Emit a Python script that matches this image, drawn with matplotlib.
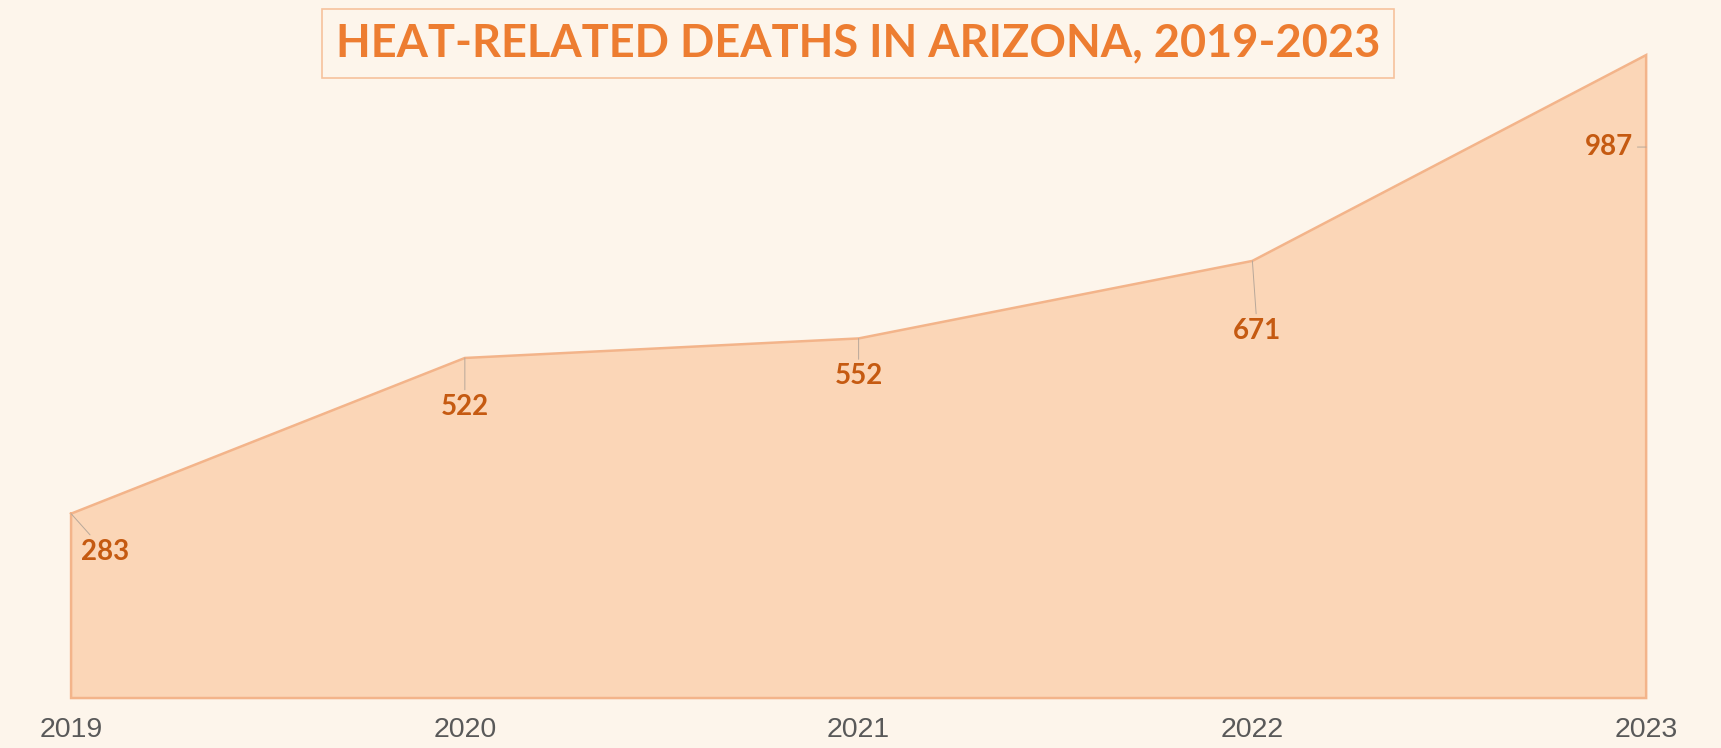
import matplotlib
matplotlib.use('Agg')
import matplotlib.pyplot as plt
import matplotlib.patheffects as pe

years = ['2019', '2020', '2021', '2022', '2023']
deaths = [283, 522, 552, 671, 987]
label_offsets = [(34, -38), (0, -49), (0, -38), (5, -70), (-37, -92)]

bg = '#FDF5EB'
fill_color = '#FBD6B7'
edge_color = '#F3B48A'
label_color = '#C55A11'
title_color = '#ED7D31'

fig = plt.figure(figsize=(17.21, 7.48), dpi=100, facecolor=bg)
ax = fig.add_axes([0.0413, 0.0668, 0.9152, 0.8596])
ax.set_facecolor(bg)

x = list(range(len(years)))
ax.set_xlim(0, len(years) - 1)
ax.set_ylim(0, 987)

ax.fill_between(x, deaths, 0, color=fill_color, lw=0, zorder=2,
                path_effects=[pe.SimplePatchShadow(offset=(2, -3), shadow_rgbFace='#E8B892', alpha=0.5),
                              pe.Normal()])
ax.plot(x + [x[-1], x[0], x[0]], deaths + [0, 0, deaths[0]], color=edge_color, lw=1.8,
        zorder=3, clip_on=False, solid_joinstyle='miter')

# pixels per data unit on the y axis
px_per_unit = ax.get_position().height * fig.get_figheight() * fig.dpi / 987

for i, (xi, val, off) in enumerate(zip(x, deaths, label_offsets)):
    if i == len(x) - 1:
        # last label: leader runs sideways to the right edge of the area
        anchor = (xi, val + off[1] / px_per_unit)
        text_off = (off[0], 0)
    else:
        anchor = (xi, val)
        text_off = off
    ax.annotate(str(val), xy=anchor, xytext=text_off, textcoords='offset pixels',
                ha='center', va='center', fontsize=20, fontweight='bold',
                family=['Lato', 'DejaVu Sans'], color=label_color, zorder=5,
                arrowprops=dict(arrowstyle='-', color='#B8A89A', lw=0.7,
                                shrinkA=1, shrinkB=0))

ax.set_xticks(x)
ax.set_xticklabels(years, fontsize=20.5, color='#595959', family=['Liberation Sans', 'DejaVu Sans'])
ax.tick_params(axis='x', length=0, pad=14)
ax.set_yticks([])
for s in ax.spines.values():
    s.set_visible(False)

fig.text(0.4986, 0.942, 'HEAT-RELATED DEATHS IN ARIZONA, 2019-2023', ha='center', va='center',
         fontsize=32.5, fontweight='bold', family=['Lato', 'DejaVu Sans'], color=title_color,
         bbox=dict(boxstyle='square,pad=0.3', facecolor=bg, edgecolor='#F6C29C', lw=1.2))

fig.savefig('out.png', dpi=100, facecolor=bg)
